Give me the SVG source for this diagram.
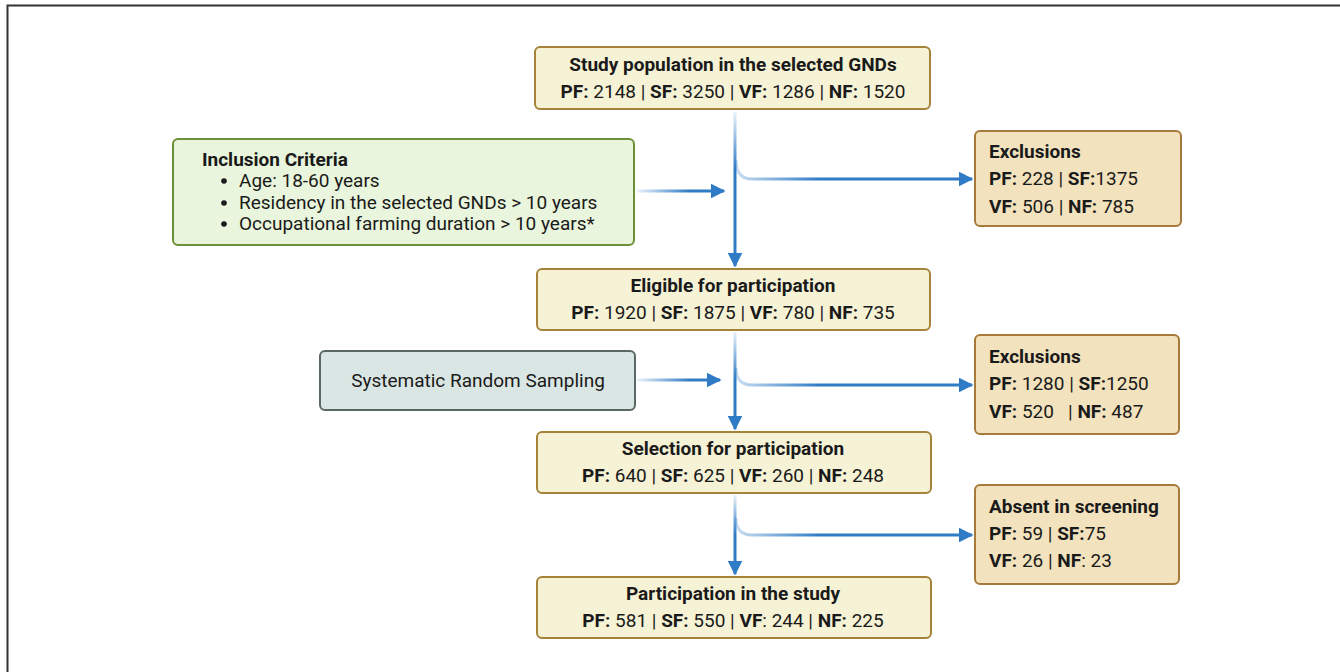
<svg xmlns="http://www.w3.org/2000/svg" width="1340" height="672" viewBox="0 0 1340 672">
<style>
text{font-family:Roboto,"Liberation Sans",sans-serif;fill:#1a1a1a;}
.t{font-size:19px;font-weight:bold;}
.n{font-size:19px;}
.b{font-weight:bold;}
.c{text-anchor:middle;}
.main{fill:#f6f2d5;stroke:#a5843a;stroke-width:2;}
.exc{fill:#f2e2bd;stroke:#a7793a;stroke-width:2;}
.conn{fill:none;stroke-width:3;}
</style>
<defs>
<marker id="ah" viewBox="0 0 10 10" refX="9" refY="5" markerWidth="5" markerHeight="5" markerUnits="strokeWidth" orient="auto">
<path d="M0,0 L10,5 L0,10 z" fill="#2f7bc6"/>
</marker>
<linearGradient id="v1" gradientUnits="userSpaceOnUse" x1="0" y1="112" x2="0" y2="170"><stop offset="0" stop-color="#2f7bc6" stop-opacity="0.1"/><stop offset="1" stop-color="#2f7bc6"/></linearGradient>
<linearGradient id="v2" gradientUnits="userSpaceOnUse" x1="0" y1="332" x2="0" y2="380"><stop offset="0" stop-color="#2f7bc6" stop-opacity="0.1"/><stop offset="1" stop-color="#2f7bc6"/></linearGradient>
<linearGradient id="v3" gradientUnits="userSpaceOnUse" x1="0" y1="495" x2="0" y2="535"><stop offset="0" stop-color="#2f7bc6" stop-opacity="0.1"/><stop offset="1" stop-color="#2f7bc6"/></linearGradient>
<linearGradient id="h" gradientUnits="userSpaceOnUse" x1="736" y1="0" x2="820" y2="0"><stop offset="0" stop-color="#2f7bc6" stop-opacity="0.25"/><stop offset="1" stop-color="#2f7bc6"/></linearGradient>
<linearGradient id="hl" gradientUnits="userSpaceOnUse" x1="637" y1="0" x2="690" y2="0"><stop offset="0" stop-color="#2f7bc6" stop-opacity="0.1"/><stop offset="1" stop-color="#2f7bc6"/></linearGradient>
</defs>
<rect width="1340" height="672" fill="#ffffff"/>
<path d="M7.5,672 V5.5 H1340" fill="none" stroke="#333" stroke-width="2"/>

<g id="connectors">
<path class="conn" stroke="url(#v1)" d="M735,112 V266" marker-end="url(#ah)"/>
<path class="conn" stroke="url(#h)" d="M736,160 Q736,179 752,179 H972" marker-end="url(#ah)"/>
<path class="conn" stroke="url(#hl)" d="M637,191 H724" marker-end="url(#ah)"/>
<path class="conn" stroke="url(#v2)" d="M735,332 V429" marker-end="url(#ah)"/>
<path class="conn" stroke="url(#h)" d="M736,368 Q736,385 752,385 H972" marker-end="url(#ah)"/>
<path class="conn" stroke="url(#hl)" d="M637,380 H720" marker-end="url(#ah)"/>
<path class="conn" stroke="url(#v3)" d="M735,495 V574" marker-end="url(#ah)"/>
<path class="conn" stroke="url(#h)" d="M736,518 Q736,535 752,535 H972" marker-end="url(#ah)"/>
</g>

<g id="study-population">
<rect class="main" x="535" y="47" width="395" height="62" rx="5"/>
<text class="t c" x="733" y="71">Study population in the selected GNDs</text>
<text class="n c" x="733" y="98"><tspan class="b">PF:</tspan> 2148 | <tspan class="b">SF:</tspan> 3250 | <tspan class="b">VF:</tspan> 1286 | <tspan class="b">NF:</tspan> 1520</text>
</g>

<g id="inclusion-criteria">
<rect x="173" y="139" width="461" height="106" rx="5" fill="#e9f5dc" stroke="#6b9038" stroke-width="2"/>
<text class="t" x="202" y="166">Inclusion Criteria</text>
<circle cx="224" cy="181" r="2.8" fill="#1a1a1a"/>
<circle cx="224" cy="203" r="2.8" fill="#1a1a1a"/>
<circle cx="224" cy="224" r="2.8" fill="#1a1a1a"/>
<text class="n" x="239" y="187">Age: 18-60 years</text>
<text class="n" x="239" y="209">Residency in the selected GNDs &gt; 10 years</text>
<text class="n" x="239" y="230">Occupational farming duration &gt; 10 years*</text>
</g>

<g id="exclusions-1">
<rect class="exc" x="975" y="131" width="206" height="95" rx="5"/>
<text class="t" x="989" y="158">Exclusions</text>
<text class="n" x="989" y="185"><tspan class="b">PF:</tspan> 228 | <tspan class="b">SF:</tspan>1375</text>
<text class="n" x="989" y="213"><tspan class="b">VF:</tspan> 506 | <tspan class="b">NF:</tspan> 785</text>
</g>

<g id="eligible">
<rect class="main" x="537" y="269" width="393" height="61" rx="5"/>
<text class="t c" x="733" y="292">Eligible for participation</text>
<text class="n c" x="733" y="319"><tspan class="b">PF:</tspan> 1920 | <tspan class="b">SF:</tspan> 1875 | <tspan class="b">VF:</tspan> 780 | <tspan class="b">NF:</tspan> 735</text>
</g>

<g id="sampling">
<rect x="320" y="351" width="315" height="59" rx="5" fill="#dae6e3" stroke="#5b6766" stroke-width="2"/>
<text class="n c" x="478" y="387">Systematic Random Sampling</text>
</g>

<g id="exclusions-2">
<rect class="exc" x="975" y="335" width="204" height="99" rx="5"/>
<text class="t" x="989" y="363">Exclusions</text>
<text class="n" x="989" y="390"><tspan class="b">PF:</tspan> 1280 | <tspan class="b">SF:</tspan>1250</text>
<text class="n" x="989" y="418" xml:space="preserve"><tspan class="b">VF:</tspan> 520   | <tspan class="b">NF:</tspan> 487</text>
</g>

<g id="selection">
<rect class="main" x="537" y="432" width="394" height="61" rx="5"/>
<text class="t c" x="733" y="455">Selection for participation</text>
<text class="n c" x="733" y="482"><tspan class="b">PF:</tspan> 640 | <tspan class="b">SF:</tspan> 625 | <tspan class="b">VF:</tspan> 260 | <tspan class="b">NF:</tspan> 248</text>
</g>

<g id="absent">
<rect class="exc" x="975" y="485" width="204" height="99" rx="5"/>
<text class="t" x="989" y="513">Absent in screening</text>
<text class="n" x="989" y="540"><tspan class="b">PF:</tspan> 59 | <tspan class="b">SF:</tspan>75</text>
<text class="n" x="989" y="567"><tspan class="b">VF:</tspan> 26 | <tspan class="b">NF</tspan>: 23</text>
</g>

<g id="participation">
<rect class="main" x="537" y="577" width="394" height="61" rx="5"/>
<text class="t c" x="733" y="600">Participation in the study</text>
<text class="n c" x="733" y="627"><tspan class="b">PF:</tspan> 581 | <tspan class="b">SF:</tspan> 550 | <tspan class="b">VF</tspan>: 244 | <tspan class="b">NF:</tspan> 225</text>
</g>
</svg>
